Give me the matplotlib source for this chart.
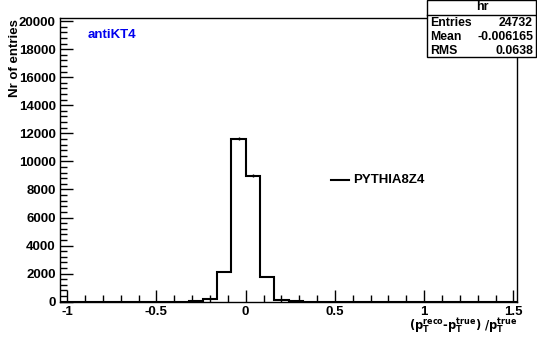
#!/usr/bin/env python3
"""Relative pT response histogram (antiKT4, PYTHIA8Z4), ROOT-like look."""
import numpy as np
import matplotlib.pyplot as plt
from matplotlib.ticker import MultipleLocator

plt.rcParams['font.family'] = ['Liberation Sans', 'DejaVu Sans']
plt.rcParams['font.weight'] = 'bold'

# histogram: 32 bins of 0.08 from -1.04 to 1.52
bin_lo = -1.04
bin_width = 0.08
counts = [0, 0, 0, 0, 0, 0, 0, 0, 0,
          30, 170, 2130, 11620, 8990, 1770, 110, 30,
          0, 0, 0, 0, 0, 0, 0, 0, 0, 0, 0, 0, 0, 0, 0]

title = 'hr'
stats_names = ['Entries', 'Mean', 'RMS']
stats_values = ['24732', '-0.006165', '0.0638']
legend_label = 'PYTHIA8Z4'
jet_label = 'antiKT4'

counts = np.array(counts, dtype=float)
edges = bin_lo + bin_width * np.arange(len(counts) + 1)
centers = 0.5 * (edges[:-1] + edges[1:])

fig = plt.figure(figsize=(5.37, 3.44), dpi=100)
ax = fig.add_axes([60 / 537, 1 - 301.7 / 344, 457 / 537, 283.7 / 344])

ax.stairs(counts, edges, color='black', linewidth=1.5)
nz = counts > 0
ax.errorbar(centers[nz], counts[nz], yerr=np.sqrt(counts[nz]), fmt='none',
            ecolor='black', elinewidth=1.0, capsize=0)

ax.set_xlim(edges[0], edges[-1])
ax.set_ylim(0, 20220)

ax.xaxis.set_major_locator(MultipleLocator(0.5))
ax.xaxis.set_minor_locator(MultipleLocator(0.1))
ax.yaxis.set_major_locator(MultipleLocator(2000))
ax.yaxis.set_minor_locator(MultipleLocator(400))
ax.tick_params(which='both', direction='in', top=False, right=False,
               labelsize=9.5, width=1.0)
ax.tick_params(which='major', length=9, pad=3)
ax.tick_params(which='minor', length=5)
ax.set_xticks([-1, -0.5, 0, 0.5, 1, 1.5])
ax.set_xticklabels(['-1', '-0.5', '0', '0.5', '1', '1.5'])
for lab in ax.get_xticklabels() + ax.get_yticklabels():
    lab.set_fontweight('bold')
for s in ax.spines.values():
    s.set_linewidth(1.0)

fig.text(15 / 537, 1 - 19 / 344, 'Nr of entries', rotation=90, ha='center',
         va='top', fontsize=9.5, fontweight='bold')
fig.text(518 / 537, 1 - 336 / 344,
         r'$\mathbf{(p_{T}^{reco}\text{-}p_{T}^{true})\ /p_{T}^{true}}$',
         ha='right', va='bottom', fontsize=8.3)

ax.text(0.06, 0.94, jet_label, transform=ax.transAxes, color='#0000ee',
        fontsize=9.5, fontweight='bold', va='center', ha='left')

# legend entry
ax.plot([0.476, 0.577], [8700, 8700], color='black', linewidth=1.5)
ax.text(0.603, 8700, legend_label, fontsize=9.5, fontweight='bold',
        va='center', ha='left')

# stats box
bx0, by0, bw, bh = 427 / 537, 1 - 57 / 344, 110 / 537, 57 / 344
box = plt.Rectangle((bx0, by0), bw - 0.002, bh - 0.001, transform=fig.transFigure,
                    facecolor='white', edgecolor='black', linewidth=1.0, zorder=5)
fig.add_artist(box)
fig.add_artist(plt.Line2D([bx0, bx0 + bw], [1 - 15 / 344, 1 - 15 / 344],
                          transform=fig.transFigure, color='black', linewidth=1.0,
                          zorder=6))
fig.text(bx0 + bw / 2, 1 - 7.5 / 344, title, ha='center', va='center',
         fontsize=9, fontweight='bold', zorder=7)
for i, (n, v) in enumerate(zip(stats_names, stats_values)):
    y = 1 - (23.5 + 13.5 * i) / 344
    fig.text(bx0 + 3 / 537, y, n, ha='left', va='center', fontsize=8.8,
             fontweight='bold', zorder=7)
    fig.text(bx0 + bw - 4 / 537, y, v, ha='right', va='center', fontsize=8.8,
             fontweight='bold', zorder=7)

fig.savefig('out.png', dpi=100)
